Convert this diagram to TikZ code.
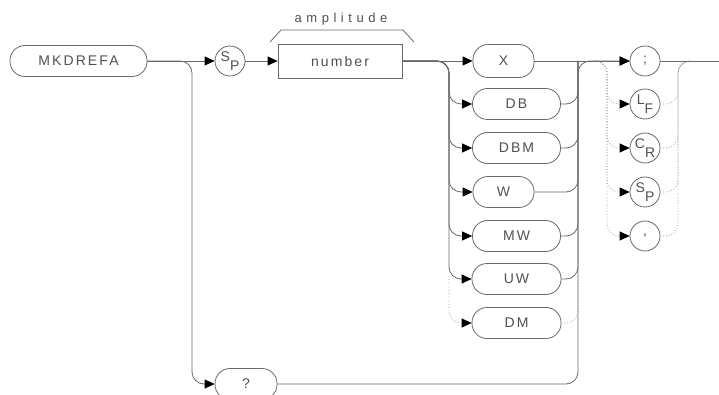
\documentclass[tikz,border=0pt]{standalone}
\usepackage{fontspec}
\setmainfont{Liberation Sans}[LetterSpace=15]
\usetikzlibrary{arrows.meta}
\definecolor{hpline}{RGB}{105,105,105}
\definecolor{hptext}{RGB}{80,80,80}
\definecolor{hpdot}{RGB}{160,160,160}
\newcommand{\subkey}[2]{\raisebox{3.5pt}{#1}\raisebox{-5pt}{#2}}

\begin{document}
\begin{tikzpicture}[x=1pt, y=-1pt,
    every node/.style={text=hptext, font=\fontsize{14}{14}\selectfont},
    conn/.style={draw=hpline, line width=0.8pt, rounded corners=12pt},
    dotconn/.style={draw=hpdot, line width=0.8pt, dotted, rounded corners=12pt},
    arr/.style={-{Triangle[length=10pt, width=9pt, color=black]}},
    pill/.style={draw=hpline, line width=0.8pt, rounded corners=15pt, minimum height=31pt, inner sep=0pt},
    keybox/.style={draw=hpline, line width=0.8pt, minimum width=124pt, minimum height=34pt, inner sep=0pt},
    term/.style={circle, draw=hpline, line width=0.8pt, minimum size=30pt, inner sep=0pt, font=\fontsize{14}{14}\selectfont}]

    \useasboundingbox (0,0) rectangle (719,395);

    \node[pill, minimum width=137pt] (mkd) at (78.5,61) {MKDREFA};
    \node[term] (sp) at (230,61) {\subkey{S}{P}};
    \node[keybox] (num) at (340,61) {number};
    \node (amp) at (341,19) {\fontsize{13}{13}\selectfont\addfontfeature{LetterSpace=35}amplitude};
    \draw[hpline, line width=0.8pt] (270,42) -- (281,30) -- (403,30) -- (414,42);

    \node[pill, minimum width=61pt, minimum height=33pt] (x) at (503.5,61) {X};
    \node[pill, minimum width=88pt] (db) at (516.5,104) {DB};
    \node[pill, minimum width=88pt] (dbm) at (516.5,148) {DBM};
    \node[pill, minimum width=61pt] (w) at (503.5,192) {W};
    \node[pill, minimum width=88pt] (mw) at (516.5,236) {MW};
    \node[pill, minimum width=89pt] (uw) at (516.5,279) {UW};
    \node[pill, minimum width=89pt] (dm) at (516.5,323) {DM};
    \node[pill, minimum width=62pt] (q) at (246,384) {?};

    \node[term] (semi) at (645,61) {;};
    \node[term] (lf) at (645,104) {\subkey{L}{F}};
    \node[term] (cr) at (645,148) {\subkey{C}{R}};
    \node[term] (spb) at (645,192) {\subkey{S}{P}};
    \node[term] (comma) at (645,236) {,};

    \coordinate (sc) at (192,61);
    \coordinate (sa) at (449,61);
    \coordinate (sb) at (578,61);
    \coordinate (sd0) at (595,61);
    \coordinate (sd) at (607,61);
    \coordinate (se) at (678,61);
    \coordinate (se0) at (690,61);
    \coordinate (out) at (719,61);

    \draw[dotconn, arr] (sa |- uw.west) |- (dm.west);
    \draw[dotconn] (dm.east) -| (sb |- uw.east);
    \foreach \t in {lf,cr,spb,comma} {
        \draw[dotconn, arr] (sd0) -| (sd |- \t.west) -- (\t.west);
        \draw[dotconn] (\t.east) -| (se) -- (se0);
    }

    \draw[conn, arr] (mkd) -- (sp);
    \draw[conn, arr] (mkd.east) -| (sc |- q.west) -- (q.west);
    \draw[conn, arr] (sp) -- (num);
    \draw[conn, arr] (num) -- (x);
    \foreach \p in {db,dbm,w,mw,uw}
        \draw[conn, arr] (num.east) -| (sa |- \p.west) -- (\p.west);
    \foreach \p in {db,dbm,w,mw,uw}
        \draw[conn] (\p.east) -| (sb);
    \draw[conn, arr] (x) -- (semi);
    \draw[conn, arr] (q.east) -| (sb) -- (semi.west);
    \draw[conn] (semi) -- (out);
\end{tikzpicture}
\end{document}
